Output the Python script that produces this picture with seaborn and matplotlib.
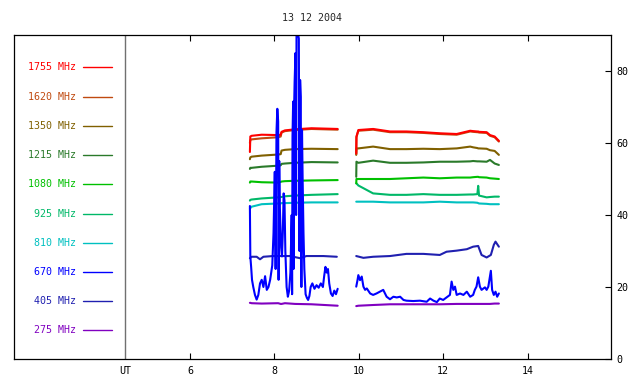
import numpy as np
import pandas as pd
import matplotlib
matplotlib.use("Agg")
import matplotlib.pyplot as plt
import seaborn as sns

# ---------------- data ----------------
title = "13 12 2004"
channels = ["1755", "1620", "1350", "1215", "1080", "925", "810", "670", "405", "275"]
colors = {"1755": "#ff0000", "1620": "#c04a10", "1350": "#806000", "1215": "#2a7a2a",
          "1080": "#00c000", "925": "#00b868", "810": "#00c0c0", "670": "#0000ff",
          "405": "#2020b0", "275": "#8000c0"}

# common time grids (UT hours) for the smoother channels
hours_seg1 = [7.42, 7.43, 7.46, 7.70, 8.09, 8.15, 8.17, 8.25, 8.49, 8.88, 9.50]
hours_seg2 = [9.94, 9.945, 9.99, 10.34, 10.74, 11.13, 11.53, 11.92, 12.32, 12.64,
              12.71, 12.81, 12.83, 12.85, 13.03, 13.11, 13.22, 13.32]

f1755_seg1 = [57.5, 61.8, 62.0, 62.3, 62.2, 62.3, 63.1, 63.5, 63.8, 64.1, 63.9]
f1755_seg2 = [57.1, 61.8, 63.6, 63.9, 63.2, 63.2, 63.0, 62.7, 62.5, 63.4, 63.3, 63.2,
              63.2, 63.1, 63.0, 62.2, 61.8, 60.6]
f1620_seg1 = [60.0, 60.8, 61.0, 61.3, 61.6, 61.8, 62.9, 63.3, 63.6, 63.9, 63.7]
f1620_seg2 = [56.9, 61.6, 63.4, 63.7, 63.0, 63.0, 62.8, 62.5, 62.3, 63.2, 63.1, 63.0,
              63.0, 62.9, 62.8, 62.0, 61.6, 60.4]
f1350_seg1 = [55.5, 56.0, 56.2, 56.5, 56.8, 56.9, 57.9, 58.1, 58.3, 58.4, 58.3]
f1350_seg2 = [56.7, 58.5, 58.5, 59.0, 58.3, 58.3, 58.4, 58.3, 58.5, 59.0, 58.8, 58.6,
              58.5, 58.5, 58.4, 58.0, 57.8, 56.7]
f1215_seg1 = [52.8, 53.1, 53.1, 53.4, 53.7, 53.8, 54.2, 54.3, 54.5, 54.7, 54.6]
f1215_seg2 = [50.6, 54.8, 54.5, 55.1, 54.5, 54.5, 54.6, 54.8, 54.8, 54.9, 55.0, 54.9,
              54.9, 54.9, 54.8, 55.3, 54.3, 53.9]
f1080_seg1 = [49.0, 49.3, 49.3, 49.1, 49.0, 49.2, 49.3, 49.4, 49.5, 49.6, 49.7]
f1080_seg2 = [48.8, 50.0, 50.0, 50.0, 50.0, 50.2, 50.4, 50.2, 50.4, 50.4, 50.5, 50.6,
              50.6, 50.5, 50.4, 50.2, 50.1, 50.0]
f925_seg1 = [44.0, 44.2, 44.3, 44.6, 44.9, 45.0, 45.0, 45.2, 45.4, 45.6, 45.8]
f925_seg2 = [48.8, 48.8, 48.2, 46.0, 45.6, 45.6, 45.8, 45.6, 45.6, 45.7, 45.7, 45.8,
             48.1, 45.4, 44.9, 45.0, 45.1, 45.1]
f810_seg1 = [41.7, 41.9, 42.3, 43.0, 43.2, 43.2, 43.3, 43.3, 43.4, 43.5, 43.5]
f810_seg2 = [43.7, 43.7, 43.7, 43.7, 43.5, 43.5, 43.5, 43.7, 43.5, 43.5, 43.5, 43.4,
             43.3, 43.2, 43.1, 43.0, 43.0, 43.0]
f275_seg1 = [15.6, 15.6, 15.5, 15.4, 15.5, 15.3, 15.3, 15.5, 15.3, 15.2, 14.8]
f275_seg2 = [14.7, 14.7, 14.8, 15.0, 15.2, 15.2, 15.2, 15.2, 15.3, 15.3, 15.3, 15.3,
             15.3, 15.3, 15.3, 15.3, 15.4, 15.4]

# 405 MHz
h405_seg1 = [7.42, 7.46, 7.58, 7.66, 7.74, 7.97, 8.37, 8.61, 8.76, 9.16, 9.48]
f405_seg1 = [28.0, 28.4, 28.4, 27.7, 28.4, 28.6, 28.6, 28.0, 28.6, 28.6, 28.4]
h405_seg2 = [9.94, 10.11, 10.34, 10.74, 11.13, 11.53, 11.92, 12.08, 12.32, 12.56,
             12.71, 12.83, 12.91, 13.03, 13.13, 13.20, 13.24, 13.32]
f405_seg2 = [28.6, 28.1, 28.4, 28.6, 29.2, 29.2, 28.9, 29.8, 30.1, 30.5,
             31.2, 31.4, 28.9, 28.2, 28.9, 31.7, 32.6, 31.2]

# 670 MHz (burst channel)
h670_seg1 = [7.42, 7.43, 7.45, 7.47, 7.50, 7.54, 7.58, 7.62, 7.66, 7.70, 7.74, 7.78,
             7.82, 7.86, 7.90, 7.95, 7.98, 8.01, 8.03, 8.05, 8.07, 8.09, 8.10, 8.115,
             8.13, 8.16, 8.18, 8.20, 8.22, 8.24, 8.26, 8.29, 8.32, 8.35, 8.38, 8.41,
             8.42, 8.43, 8.445, 8.455, 8.465, 8.48, 8.50, 8.515, 8.525, 8.545, 8.565,
             8.58, 8.595, 8.61, 8.625, 8.64, 8.655, 8.67, 8.69, 8.71, 8.74, 8.77, 8.80,
             8.83, 8.86, 8.90, 8.95, 9.00, 9.05, 9.10, 9.15, 9.18, 9.21, 9.24, 9.27,
             9.30, 9.34, 9.38, 9.42, 9.46, 9.50]
f670_seg1 = [42.5, 28.5, 25.5, 22.0, 20.0, 17.8, 16.5, 17.8, 21.0, 22.0, 20.0, 23.0,
             19.2, 20.0, 22.0, 26.0, 35.0, 52.0, 25.0, 63.0, 69.5, 66.0, 22.0, 55.0,
             42.0, 31.0, 28.5, 35.0, 46.0, 44.0, 30.0, 20.0, 17.3, 19.0, 24.0, 40.0,
             18.0, 62.0, 71.5, 25.0, 68.0, 77.0, 85.0, 40.0, 91.0, 95.0, 90.0,
             89.0, 30.0, 77.5, 72.8, 20.0, 63.6, 49.7, 35.0, 25.0, 18.0, 17.0, 16.4,
             17.5, 20.0, 21.0, 19.5, 20.5, 19.8, 21.0, 20.0, 23.0, 25.6, 24.0, 25.0,
             21.0, 18.2, 17.5, 19.0, 18.0, 19.5]
h670_seg2 = [9.94, 9.97, 9.99, 10.03, 10.07, 10.11, 10.15, 10.19, 10.27, 10.34, 10.42,
             10.50, 10.58, 10.66, 10.74, 10.82, 10.90, 10.98, 11.06, 11.13, 11.29,
             11.45, 11.61, 11.69, 11.77, 11.85, 11.92, 12.00, 12.08, 12.16, 12.20,
             12.24, 12.28, 12.32, 12.40, 12.48, 12.56, 12.64, 12.71, 12.75, 12.79,
             12.83, 12.87, 12.91, 12.99, 13.03, 13.07, 13.13, 13.16, 13.20, 13.24,
             13.28, 13.32]
f670_seg2 = [20.1, 21.9, 23.3, 21.9, 22.9, 20.1, 19.2, 19.6, 18.2, 17.8, 18.2,
             18.7, 19.2, 17.3, 16.6, 17.3, 17.1, 17.3, 16.4, 16.2, 16.1,
             16.2, 15.9, 16.8, 16.2, 15.8, 16.8, 16.4, 17.1, 17.8, 21.5,
             19.2, 20.1, 17.8, 18.2, 17.8, 18.7, 17.3, 17.8, 19.2, 20.1,
             22.7, 20.1, 19.2, 19.9, 19.2, 20.1, 24.5, 19.2, 17.8, 18.7,
             17.3, 18.2]

xticks = [6, 8, 10, 12, 14]
yticks = [0, 20, 40, 60, 80]

# ---------------- build long table ----------------
series = {
    "1755": [(hours_seg1, f1755_seg1), (hours_seg2, f1755_seg2)],
    "1620": [(hours_seg1, f1620_seg1), (hours_seg2, f1620_seg2)],
    "1350": [(hours_seg1, f1350_seg1), (hours_seg2, f1350_seg2)],
    "1215": [(hours_seg1, f1215_seg1), (hours_seg2, f1215_seg2)],
    "1080": [(hours_seg1, f1080_seg1), (hours_seg2, f1080_seg2)],
    "925": [(hours_seg1, f925_seg1), (hours_seg2, f925_seg2)],
    "810": [(hours_seg1, f810_seg1), (hours_seg2, f810_seg2)],
    "670": [(h670_seg1, f670_seg1), (h670_seg2, f670_seg2)],
    "405": [(h405_seg1, f405_seg1), (h405_seg2, f405_seg2)],
    "275": [(hours_seg1, f275_seg1), (hours_seg2, f275_seg2)],
}
rows = []
for ch, segs in series.items():
    for si, (hh, vv) in enumerate(segs):
        for h, v in zip(hh, vv):
            rows.append((ch, si, h, v))
df = pd.DataFrame(rows, columns=["channel", "segment", "hour", "value"])

# ---------------- plot ----------------
sns.set_style("white")
plt.rcParams["font.family"] = ["DejaVu Sans Mono", "DejaVu Sans"]

fig = plt.figure(figsize=(6.4, 3.84), dpi=100)
ax = fig.add_axes([14 / 640, 1 - 359 / 384, 596.7 / 640, 324 / 384])

draw_order = ["275", "405", "810", "925", "1080", "1215", "1350", "1620", "1755", "670"]
sns.lineplot(data=df, x="hour", y="value", hue="channel", units="segment",
             estimator=None, hue_order=draw_order, palette=colors, legend=False,
             lw=1.5, sort=False, ax=ax)

ax.set_xlim(1.83, 15.97)
ax.set_ylim(0, 90)
ax.set_xlabel("")
ax.set_ylabel("")

ut_x = 4.46
ax.axvline(ut_x, color="#707070", lw=1.0, zorder=1)

ax.set_xticks([ut_x] + xticks)
ax.set_xticklabels(["UT"] + [str(t) for t in xticks])
ax.tick_params(axis="x", direction="in", top=True, bottom=True, length=4,
               width=0.8, labelsize=7.2, pad=5, colors="black")
t0 = ax.xaxis.get_major_ticks()[0]
t0.tick1line.set_visible(False)
t0.tick2line.set_visible(False)

ax.yaxis.tick_right()
ax.set_yticks(yticks)
ax.set_yticklabels([str(t) for t in yticks])
ax.tick_params(axis="y", direction="in", right=True, left=False, length=4,
               width=0.8, labelsize=7.2, pad=4, colors="black")

for sp in ax.spines.values():
    sp.set_visible(True)
    sp.set_color("black")
    sp.set_linewidth(0.9)

ax.set_title(title, fontsize=7.2, pad=10)

# channel key on the left
for i, ch in enumerate(channels):
    y = 0.900 - i * 0.0902
    ax.text(0.1039, y, f"{ch} MHz", transform=ax.transAxes, ha="right", va="center",
            fontsize=7.2, color=colors[ch])
    ax.plot([0.1156, 0.1642], [y, y], transform=ax.transAxes, color=colors[ch], lw=1.0)

fig.savefig("out.png", dpi=100)
